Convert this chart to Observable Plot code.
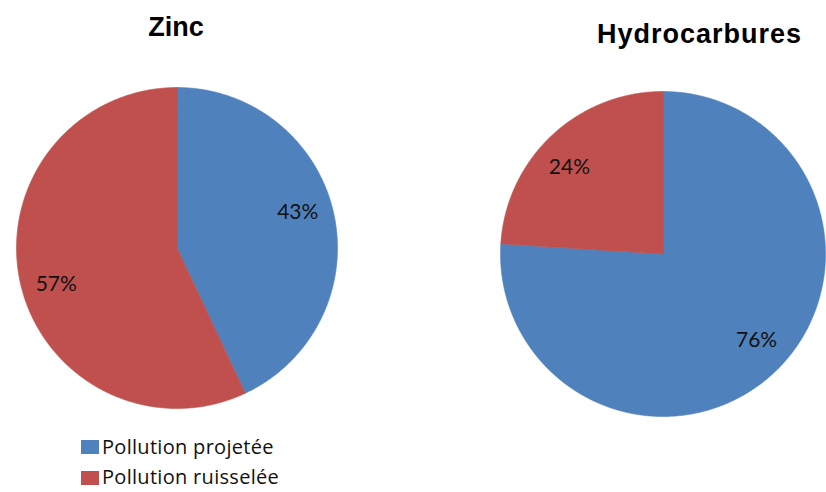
<!DOCTYPE html>
<html>
<head>
<meta charset="utf-8">
<script src="https://cdn.jsdelivr.net/npm/d3@7"></script>
<script src="https://cdn.jsdelivr.net/npm/@observablehq/plot@0.6"></script>
<style>
  html, body { margin: 0; padding: 0; background: #fff; }
  #root { position: relative; width: 826px; height: 492px; overflow: hidden; background: #fff; }
  .title { position: absolute; font-family: "Liberation Sans", Arial, sans-serif; font-weight: bold; font-size: 27px; line-height: 27px; color: #000; text-align: center; white-space: nowrap; }
  .pie { position: absolute; }
  .legend-text { position: absolute; font-family: "Open Sans", Lato, sans-serif; font-size: 20px; line-height: 20px; letter-spacing: 0.3px; color: #111; white-space: nowrap; font-variant-ligatures: none; }
  .swatch { position: absolute; width: 18px; height: 14px; }
</style>
</head>
<body>
<div id="root"></div>
<script>
// ---- data ----
const chartTitles = ["Zinc", "Hydrocarbures"];
const categories = ["Pollution projetée", "Pollution ruisselée"];
const zincValues = [43, 57];
const hydroValues = [76, 24];
const colors = ["#4F81BD", "#C0504D"];

// ---- layout (pixel placement of each pie on the page) ----
const layouts = [
  {cx: 176, cy: 247, r: 160.5, titleCx: 176, titleBase: 37, spacing: 0},
  {cx: 662.5, cy: 253.5, r: 162.5, titleCx: 699, titleBase: 44, spacing: 1}
];
const seriesValues = [zincValues, hydroValues];

const root = document.getElementById("root");

function wedges(values) {
  const total = d3.sum(values);
  const pts = [];
  const labels = [];
  let a0 = 0;
  values.forEach((v, i) => {
    const a1 = a0 + (v / total) * 2 * Math.PI;
    pts.push({cat: categories[i], x: 0, y: 0});
    const n = Math.max(2, Math.ceil((a1 - a0) / 0.01));
    for (let k = 0; k <= n; k++) {
      const a = a0 + (a1 - a0) * k / n;
      pts.push({cat: categories[i], x: Math.sin(a), y: Math.cos(a)});
    }
    const am = (a0 + a1) / 2 - 4 * Math.PI / 180;
    labels.push({cat: categories[i], x: 0.785 * Math.sin(am), y: 0.785 * Math.cos(am), text: Math.round(v / total * 100) + "%"});
    a0 = a1;
  });
  return {pts, labels};
}

chartTitles.forEach((title, j) => {
  const L = layouts[j];
  const {pts, labels} = wedges(seriesValues[j]);
  const size = 2 * L.r;
  const chart = Plot.plot({
    width: size,
    height: size,
    margin: 0,
    x: {domain: [-1, 1], axis: null},
    y: {domain: [-1, 1], axis: null},
    color: {domain: categories, range: colors},
    style: {background: "transparent", overflow: "visible"},
    marks: [
      Plot.line(pts, {x: "x", y: "y", z: "cat", fill: "cat", stroke: "cat", strokeWidth: 0.6, curve: "linear-closed"}),
      Plot.text(labels, {x: "x", y: "y", text: "text", fill: "#111", fontSize: 21, fontFamily: "Lato, 'Open Sans', sans-serif"})
    ]
  });
  const wrap = document.createElement("div");
  wrap.className = "pie";
  wrap.style.left = (L.cx - L.r) + "px";
  wrap.style.top = (L.cy - L.r) + "px";
  wrap.appendChild(chart);
  root.appendChild(wrap);

  const t = document.createElement("div");
  t.className = "title";
  t.textContent = title;
  t.style.width = "300px";
  t.style.letterSpacing = L.spacing + "px";
  t.style.left = (L.titleCx - 150 + L.spacing / 2) + "px";
  t.style.top = (L.titleBase - 22.8) + "px";
  root.appendChild(t);
});

// legend
const legendSwatchTops = [440, 471];
const legendBaselines = [455, 485];
categories.forEach((c, i) => {
  const sw = document.createElement("div");
  sw.className = "swatch";
  sw.style.left = "81px";
  sw.style.top = legendSwatchTops[i] + "px";
  sw.style.background = colors[i];
  root.appendChild(sw);
  const tx = document.createElement("div");
  tx.className = "legend-text";
  tx.style.left = "102px";
  tx.style.top = (legendBaselines[i] - 17.8) + "px";
  tx.textContent = c;
  root.appendChild(tx);
});
</script>
</body>
</html>
